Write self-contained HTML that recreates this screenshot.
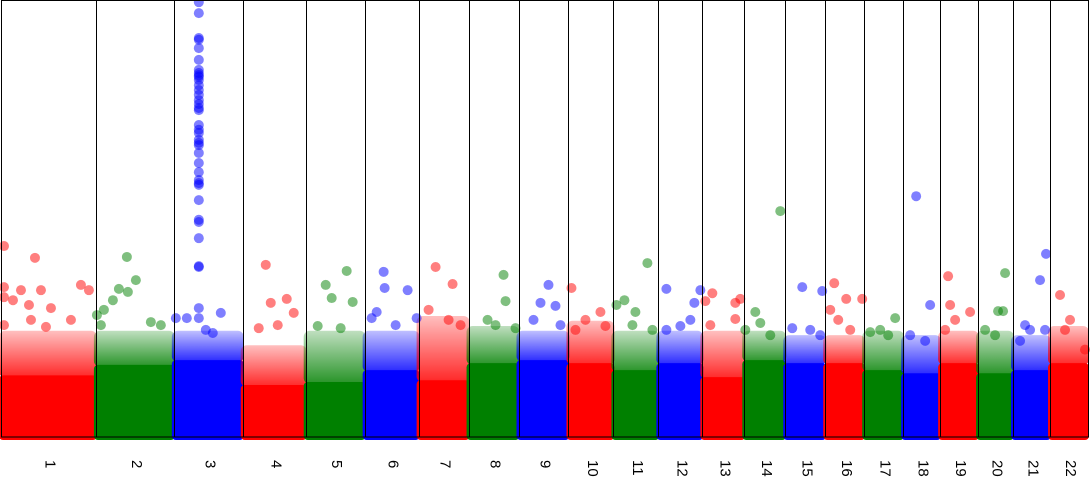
<!DOCTYPE html>
<html><head><meta charset="utf-8"><style>
html,body{margin:0;padding:0;background:#fff;width:1090px;height:502px;overflow:hidden}
svg{display:block}
text{font-family:"Liberation Sans",sans-serif;font-size:15px;fill:#000}
</style></head><body>
<svg id="chart" width="1090" height="502" viewBox="0 0 1090 502">
<defs>
<linearGradient id="g0" x1="0" y1="1" x2="0" y2="0"><stop offset="0" stop-color="#ff0000" stop-opacity="0.85"/><stop offset="1" stop-color="#ff0000" stop-opacity="0.25"/></linearGradient>
<linearGradient id="g1" x1="0" y1="1" x2="0" y2="0"><stop offset="0" stop-color="#008000" stop-opacity="0.85"/><stop offset="1" stop-color="#008000" stop-opacity="0.25"/></linearGradient>
<linearGradient id="g2" x1="0" y1="1" x2="0" y2="0"><stop offset="0" stop-color="#0000ff" stop-opacity="0.85"/><stop offset="1" stop-color="#0000ff" stop-opacity="0.25"/></linearGradient>
</defs>
</svg>
<script>
// chromosome labels and cumulative start positions (bp scaled units)
const chromLabels = ["1","2","3","4","5","6","7","8","9","10","11","12","13","14","15","16","17","18","19","20","21","22"];
const chromStarts = [0,95,173,242,305,364,418,468,518,568,613,658,702,744,785,825,864,903,940,978,1013,1050];
const genomeEnd = 1088;
// -log10(p) top of dense SNP mass per chromosome
const denseTop = [1.41,1.65,1.76,1.19,1.26,1.53,1.30,1.69,1.76,1.69,1.53,1.69,1.37,1.76,1.69,1.69,1.53,1.46,1.69,1.46,1.53,1.69];
// -log10(p) top of sparser band
const bandTop = [2.43,2.43,2.43,2.10,2.43,2.43,2.77,2.54,2.43,2.66,2.43,2.43,2.43,2.43,2.33,2.33,2.43,2.33,2.43,2.43,2.33,2.54];
// outlier SNPs: [chromIndex, position, -log10 p]
const outliers = [
[0,3,4.37],[0,34,4.10],[0,3,3.43],[0,3,3.20],[0,20,3.36],[0,12,3.13],[0,28,3.02],[0,40,3.36],[0,50,2.95],[0,80,3.48],[0,88,3.36],[0,3,2.56],[0,30,2.68],[0,45,2.52],[0,70,2.68],
[1,126,4.12],[1,118,3.39],[1,127,3.32],[1,112,3.13],[1,96,2.79],[1,103,2.91],[1,135,3.59],[1,150,2.63],[1,160,2.56],[1,100,2.56],
[2,198,9.95],[2,198,9.70],[2,198,9.13],[2,198,9.09],[2,198,8.90],[2,198,8.63],[2,198,8.40],[2,198,8.33],[2,198,8.28],[2,198,8.24],[2,198,8.17],[2,198,8.05],[2,198,7.94],[2,198,7.83],[2,198,7.71],[2,198,7.62],[2,198,7.53],[2,198,7.48],[2,198,7.14],[2,198,7.03],[2,198,6.96],[2,198,6.80],[2,198,6.73],[2,198,6.68],[2,198,6.50],[2,198,6.27],[2,198,6.06],[2,198,5.88],[2,198,5.81],[2,198,5.77],[2,198,5.42],[2,198,4.97],[2,198,4.92],[2,198,4.55],[2,198,3.91],[2,198,3.89],
[2,198,2.95],[2,198,2.72],[2,186,2.72],[2,220,2.84],[2,212,2.38],[2,175,2.72],[2,205,2.45],
[3,265,3.94],[3,286,3.16],[3,270,3.07],[3,293,2.84],[3,258,2.49],[3,277,2.56],
[4,346,3.80],[4,325,3.48],[4,331,3.18],[4,352,3.09],[4,317,2.54],[4,340,2.49],
[5,383,3.78],[5,384,3.41],[5,407,3.36],[5,376,2.86],[5,371,2.72],[5,395,2.56],[5,416,2.72],
[6,435,3.89],[6,452,3.50],[6,428,2.91],[6,448,2.68],[6,460,2.56],
[7,503,3.71],[7,505,3.11],[7,487,2.68],[7,495,2.56],[7,515,2.49],
[8,548,3.48],[8,540,3.07],[8,555,3.00],[8,533,2.68],[8,560,2.56],
[9,571,3.41],[9,600,2.86],[9,585,2.68],[9,605,2.54],[9,575,2.45],
[10,647,3.98],[10,624,3.13],[10,635,2.86],[10,616,3.02],[10,632,2.56],[10,652,2.45],
[11,666,3.39],[11,700,3.36],[11,694,3.07],[11,690,2.68],[11,666,2.45],[11,680,2.54],
[12,712,3.29],[12,705,3.11],[12,735,3.07],[12,740,3.16],[12,735,2.70],[12,710,2.56],
[13,780,5.17],[13,755,2.86],[13,760,2.61],[13,745,2.45],[13,770,2.33],
[14,802,3.43],[14,822,3.34],[14,792,2.49],[14,810,2.45],[14,820,2.33],
[15,834,3.52],[15,846,3.16],[15,862,3.16],[15,830,2.91],[15,838,2.68],[15,850,2.45],
[16,895,2.72],[16,870,2.40],[16,888,2.33],[16,880,2.45],
[17,916,5.51],[17,930,3.02],[17,910,2.33],[17,925,2.20],
[18,948,3.68],[18,950,3.02],[18,970,2.86],[18,955,2.68],[18,945,2.45],
[19,1005,3.75],[19,998,2.88],[19,1003,2.88],[19,985,2.45],[19,995,2.33],
[20,1046,4.19],[20,1040,3.59],[20,1025,2.56],[20,1030,2.45],[20,1045,2.45],[20,1020,2.20],
[21,1060,3.25],[21,1070,2.68],[21,1065,2.45],[21,1085,2.00]
];
const palette = ["#ff0000","#008000","#0000ff"];
const yMax = 10;
const plotTop = 0, plotBottom = 437;
function xs(p){ return 1 + (p/genomeEnd)*1087; }
function ys(v){ return plotBottom - (v/yMax)*(plotBottom-plotTop); }
const NS="http://www.w3.org/2000/svg";
const svg=document.getElementById('chart');
function mk(tag,attrs,parent){const e=document.createElementNS(NS,tag);for(const k in attrs)e.setAttribute(k,attrs[k]);(parent||svg).appendChild(e);return e;}
const gMass=mk('g',{});


chromLabels.forEach((lab,i)=>{
  const x0=xs(chromStarts[i]), x1=xs(i<chromStarts.length-1?chromStarts[i+1]:genomeEnd);
  const col=palette[i%3];
  const band=mk('rect',{x:x0-2,y:ys(bandTop[i]),width:x1-x0+3,height:ys(denseTop[i])-ys(bandTop[i])+2,fill:'url(#g'+(i%3)+')',rx:6},gMass);
  
  
  const dense=mk('rect',{x:x0-2,y:ys(denseTop[i]),width:x1-x0+3,height:ys(0)-ys(denseTop[i])+3,fill:col,rx:4},gMass);
  
  
});
const gPts=mk('g',{});


outliers.forEach(o=>{
  const c=mk('circle',{cx:xs(o[1]),cy:ys(o[2]),r:5,fill:palette[o[0]%3],'fill-opacity':0.5},gPts);
  
  
});
const gBox=mk('g',{});


chromLabels.forEach((lab,i)=>{
  const x0=xs(chromStarts[i]), x1=xs(i<chromStarts.length-1?chromStarts[i+1]:genomeEnd);
  const r=mk('rect',{x:Math.round(x0)+0.5,y:0.5,width:Math.round(x1)-Math.round(x0),height:plotBottom-0.5,fill:'none',stroke:'#000','stroke-width':1},gBox);
  
  
  const cx=(x0+x1)/2+1;
  const t=mk('text',{x:cx,y:460,transform:'rotate(90 '+cx+' 460)','text-anchor':'start','dominant-baseline':'middle'});
  t.textContent=lab;
  
  
});
</script>
</body></html>
